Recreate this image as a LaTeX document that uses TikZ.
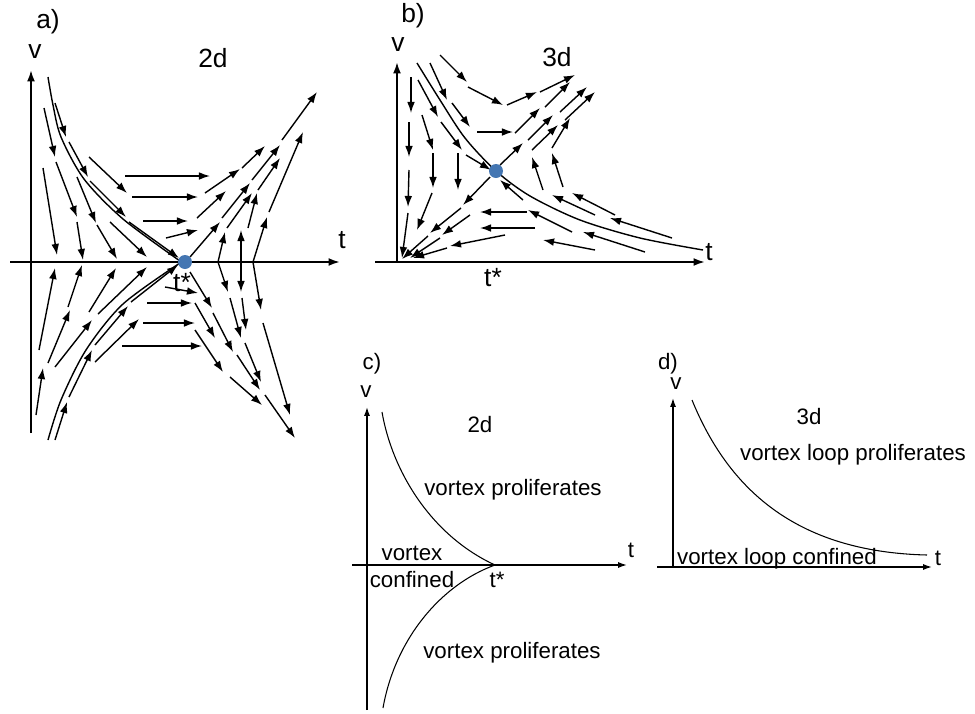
\documentclass[tikz,border=0pt]{standalone}
\usepackage{fontspec}
\setmainfont{Liberation Sans}
\usetikzlibrary{arrows.meta}
\definecolor{dotblue}{RGB}{68,118,178}
\tikzset{
  flow/.style={-{Latex[length=6.3pt,width=4.4pt]},line width=0.8pt},
  axis/.style={-{Latex[length=6.5pt,width=4.5pt]},line width=1.1pt},
  thinaxis/.style={-{Latex[length=5pt,width=3.4pt]},line width=0.8pt},
  sepline/.style={line width=0.8pt},
  border/.style={line width=0.6pt},
  big/.style={font=\fontsize{15}{18}\selectfont},
  small/.style={font=\fontsize{12.7}{15}\selectfont},
  fixpt/.style={circle,fill=dotblue,inner sep=0pt,minimum size=0.28cm}
}
\begin{document}
\begin{tikzpicture}[x=0.02cm,y=-0.02cm]
\useasboundingbox (0,0) rectangle (975,714);

% a) flow in 2d
\coordinate (aTl) at (10,262);
\coordinate (aTr) at (340,262);
\coordinate (aVb) at (31,433);
\coordinate (aVt) at (31,70);
\draw[axis] (aTl) -- (aTr);
\draw[axis] (aVb) -- (aVt);
\draw[sepline] plot[smooth] coordinates {(48,77) (53,105) (61,137) (84,179) (123,219) (180,261)};
\draw[sepline] plot[smooth] coordinates {(48,440) (61,400) (86,350) (123,304) (180,263)};
\foreach \xa/\ya/\xb/\yb in {44/108/55/157, 56/162/77/217, 77/222/83/260, 43/168/57/255, 77/177/96/223, 97/225/117/259, 89/157/127/193, 110/222/147/257,
  55/103/66/137, 69/142/88/177, 90/181/126/217, 129/222/179/258,
  125/176/210/176, 132/197/198/197, 143/221/188/221, 166/238/198/230,
  190/257/220/222, 222/218/250/183, 252/180/280/145, 282/140/317/92, 205/193/240/169, 242/168/265/146, 197/218/226/191,
  218/262/225/232, 227/228/252/193, 258/190/280/158, 241/262/241/230, 248/228/257/193, 253/262/267/217, 269/212/303/132,
  165/287/198/293, 147/303/192/303, 143/323/195/323, 122/346/202/346,
  190/272/212/308, 213/313/233/352, 237/355/260/390, 195/303/215/338, 195/330/223/372, 230/377/262/405,
  218/262/228/292, 230/298/241/338, 245/343/261/382, 241/262/241/292, 242/298/246/330, 253/262/261/310, 263/323/290/415, 265/395/295/438,
  36/415/43/368, 39/350/55/268, 48/363/70/310, 68/307/82/265, 55/367/92/320, 89/312/116/268, 98/314/147/267, 95/362/139/319,
  55/440/67/402, 69/397/92/350, 95/345/128/306, 131/302/178/265}
  \draw[flow] (\xa,\ya) -- (\xb,\yb);
\node[fixpt] (aFix) at (185,262) {};
\node[big] (aTag) at (48,22) {a)};
\node[big] (aV) at (35,52) {v};
\node[big] (aDim) at (213,58) {2d};
\node[big] (aT) at (342,240) {t};
\node[big] (aTs) at (182,283) {t*};

% b) flow in 3d
\coordinate (bTl) at (375,262);
\coordinate (bTr) at (705,262);
\coordinate (bVb) at (397,262);
\coordinate (bVt) at (397,62);
\draw[axis] (bTl) -- (bTr);
\draw[axis] (bVb) -- (bVt);
\draw[sepline] plot[smooth] coordinates {(417,63) (440,100) (465,138) (496,171) (530,196) (580,220) (640,238) (703,250)};
\foreach \xa/\ya/\xb/\yb in {411/77/411/113, 409/122/409/157, 409/170/408/207, 408/213/402/258,
  430/63/447/100, 440/55/467/82, 468/87/503/105, 452/103/470/127, 477/132/513/132,
  418/80/438/117, 441/122/462/150, 466/155/491/170,
  422/115/433/150, 433/153/433/188, 458/153/458/190, 432/193/417/230,
  490/177/463/205, 461/208/430/233, 428/236/402/259, 470/215/442/235, 440/238/410/258,
  505/235/450/246, 447/248/413/258, 527/212/480/212, 535/228/480/228,
  500/165/523/143, 528/140/553/115, 560/112/587/87, 515/133/540/108, 545/107/570/82, 507/105/537/92, 540/92/575/75,
  543/190/532/157, 532/150/558/125, 565/120/595/92, 563/187/552/153, 552/148/570/118,
  595/215/552/195, 615/215/572/193, 572/232/528/210, 672/238/610/218, 645/252/583/232, 595/250/543/240, 523/200/500/180}
  \draw[flow] (\xa,\ya) -- (\xb,\yb);
\node[fixpt] (bFix) at (496,171) {};
\node[big] (bTag) at (413,16) {b)};
\node[big] (bV) at (398,45) {v};
\node[big] (bDim) at (557,57) {3d};
\node[big] (bT) at (709,252) {t};
\node[big] (bTs) at (493,278) {t*};

% c) phase diagram 2d
\coordinate (cTl) at (352,565);
\coordinate (cTr) at (627,565);
\coordinate (cVb) at (367,710);
\coordinate (cVt) at (367,407);
\coordinate (cCusp) at (495,565);
\draw[thinaxis] (cTl) -- (cTr);
\draw[thinaxis] (cVb) -- (cVt);
\draw[border] (382,412) .. controls (392,470) and (430,535) .. (cCusp);
\draw[border] (cCusp) .. controls (440,585) and (395,640) .. (383,708);
\node[small] (cTag) at (372,364) {c)};
\node[small] (cV) at (366,392) {v};
\node[small] (cDim) at (480,425) {2d};
\node[small] (cT) at (631,550) {t};
\node[small] (cTs) at (497,580) {t*};
\node[small] (cUp) at (513,490) {vortex proliferates};
\node[small] (cDown) at (512,653) {vortex proliferates};
\node[small] (cConfA) at (412,553) {vortex};
\node[small] (cConfB) at (412,580) {confined};

% d) phase diagram 3d
\coordinate (dTl) at (657,567);
\coordinate (dTr) at (932,567);
\coordinate (dVb) at (673,567);
\coordinate (dVt) at (673,398);
\draw[thinaxis] (dTl) -- (dTr);
\draw[thinaxis] (dVb) -- (dVt);
\draw[border] (692,400) .. controls (728,488) and (795,552) .. (927,555);
\node[small] (dTag) at (668,364) {d)};
\node[small] (dV) at (676,384) {v};
\node[small] (dDim) at (809,417) {3d};
\node[small] (dT) at (938,558) {t};
\node[small] (dUp) at (853,455) {vortex loop proliferates};
\node[small] (dConf) at (777,559) {vortex loop confined};
\end{tikzpicture}
\end{document}
